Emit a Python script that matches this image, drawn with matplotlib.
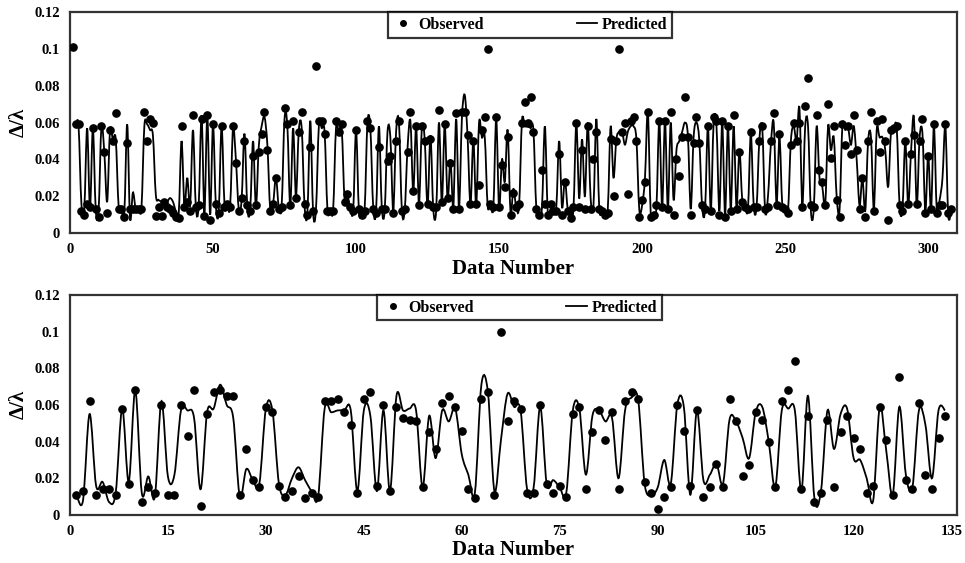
import numpy as np
import matplotlib
matplotlib.use("Agg")
import matplotlib.pyplot as plt
from matplotlib.path import Path
from matplotlib.patches import PathPatch
from matplotlib.lines import Line2D

plt.rcParams['font.family'] = ['Liberation Serif', 'DejaVu Serif']
plt.rcParams['font.weight'] = 'bold'

# top panel: observed / predicted (data numbers 1..308)
obs_top = [
    0.101, 0.059, 0.059, 0.012, 0.010, 0.016, 0.014, 0.057, 0.013, 0.009,
    0.058, 0.044, 0.011, 0.056, 0.050, 0.065, 0.013, 0.013, 0.009, 0.049,
    0.013, 0.013, 0.013, 0.013, 0.013, 0.066, 0.050, 0.062, 0.060, 0.0095,
    0.014, 0.0095, 0.017, 0.014, 0.013, 0.011, 0.009, 0.008, 0.058, 0.014,
    0.017, 0.012, 0.064, 0.014, 0.015, 0.062, 0.0095, 0.064, 0.007, 0.059,
    0.016, 0.011, 0.058, 0.014, 0.016, 0.014, 0.058, 0.038, 0.012, 0.019,
    0.050, 0.015, 0.012, 0.042, 0.015, 0.044, 0.054, 0.066, 0.045, 0.012,
    0.016, 0.030, 0.013, 0.014, 0.068, 0.059, 0.015, 0.061, 0.019, 0.055,
    0.066, 0.016, 0.010, 0.047, 0.012, 0.091, 0.061, 0.061, 0.054, 0.012,
    0.012, 0.012, 0.061, 0.055, 0.059, 0.017, 0.021, 0.014, 0.012, 0.056,
    0.013, 0.010, 0.012, 0.061, 0.057, 0.013, 0.011, 0.047, 0.013, 0.013,
    0.039, 0.042, 0.011, 0.050, 0.061, 0.012, 0.013, 0.044, 0.066, 0.023,
    0.058, 0.015, 0.058, 0.050, 0.016, 0.051, 0.014, 0.014, 0.067, 0.017,
    0.059, 0.019, 0.038, 0.013, 0.065, 0.013, 0.066, 0.066, 0.053, 0.016,
    0.050, 0.016, 0.026, 0.056, 0.063, 0.100, 0.016, 0.014, 0.063, 0.014,
    0.037, 0.025, 0.052, 0.010, 0.022, 0.014, 0.016, 0.060, 0.071, 0.060,
    0.074, 0.055, 0.013, 0.010, 0.034, 0.016, 0.010, 0.016, 0.012, 0.012,
    0.043, 0.010, 0.028, 0.012, 0.008, 0.014, 0.060, 0.014, 0.045, 0.013,
    0.058, 0.013, 0.040, 0.055, 0.013, 0.012, 0.010, 0.011, 0.051, 0.020,
    0.050, 0.100, 0.055, 0.060, 0.021, 0.061, 0.063, 0.050, 0.009, 0.018,
    0.028, 0.066, 0.009, 0.010, 0.015, 0.061, 0.014, 0.061, 0.013, 0.066,
    0.010, 0.040, 0.031, 0.052, 0.074, 0.052, 0.010, 0.049, 0.063, 0.049,
    0.015, 0.013, 0.058, 0.012, 0.063, 0.061, 0.010, 0.061, 0.009, 0.058,
    0.012, 0.064, 0.013, 0.044, 0.017, 0.014, 0.013, 0.055, 0.014, 0.014,
    0.050, 0.058, 0.013, 0.014, 0.050, 0.065, 0.015, 0.054, 0.014, 0.013,
    0.011, 0.048, 0.060, 0.050, 0.060, 0.014, 0.069, 0.084, 0.015, 0.014,
    0.064, 0.034, 0.028, 0.015, 0.070, 0.041, 0.058, 0.018, 0.009, 0.059,
    0.048, 0.058, 0.043, 0.064, 0.045, 0.013, 0.030, 0.009, 0.050, 0.066,
    0.012, 0.061, 0.044, 0.062, 0.050, 0.007, 0.056, 0.057, 0.058, 0.015,
    0.012, 0.050, 0.016, 0.043, 0.053, 0.016, 0.050, 0.062, 0.011, 0.042,
    0.013, 0.059, 0.011, 0.015, 0.015, 0.059, 0.011, 0.013,
]
pred_top = [
    0.059, 0.059, 0.058, 0.016, 0.013, 0.057, 0.013, 0.057, 0.013, 0.012,
    0.058, 0.044, 0.017, 0.056, 0.051, 0.051, 0.015, 0.013, 0.011, 0.059,
    0.008, 0.022, 0.013, 0.013, 0.014, 0.058, 0.059, 0.056, 0.053, 0.021,
    0.018, 0.017, 0.015, 0.017, 0.019, 0.017, 0.012, 0.010, 0.050, 0.015,
    0.030, 0.015, 0.056, 0.014, 0.015, 0.064, 0.011, 0.064, 0.010, 0.059,
    0.015, 0.012, 0.058, 0.016, 0.014, 0.015, 0.057, 0.040, 0.013, 0.018,
    0.054, 0.014, 0.013, 0.050, 0.014, 0.047, 0.058, 0.063, 0.048, 0.013,
    0.016, 0.030, 0.014, 0.015, 0.062, 0.058, 0.014, 0.057, 0.020, 0.056,
    0.057, 0.015, 0.011, 0.061, 0.011, 0.013, 0.058, 0.057, 0.055, 0.013,
    0.012, 0.013, 0.057, 0.055, 0.056, 0.018, 0.020, 0.014, 0.012, 0.056,
    0.012, 0.011, 0.013, 0.060, 0.057, 0.014, 0.012, 0.058, 0.014, 0.012,
    0.055, 0.052, 0.012, 0.055, 0.060, 0.013, 0.012, 0.046, 0.061, 0.022,
    0.058, 0.016, 0.057, 0.051, 0.014, 0.053, 0.013, 0.012, 0.060, 0.016,
    0.059, 0.018, 0.040, 0.014, 0.062, 0.014, 0.062, 0.075, 0.052, 0.015,
    0.051, 0.015, 0.060, 0.052, 0.052, 0.015, 0.016, 0.014, 0.062, 0.013,
    0.040, 0.028, 0.056, 0.011, 0.024, 0.014, 0.015, 0.061, 0.058, 0.058,
    0.057, 0.056, 0.014, 0.011, 0.014, 0.058, 0.012, 0.013, 0.013, 0.014,
    0.050, 0.014, 0.029, 0.013, 0.012, 0.013, 0.060, 0.019, 0.051, 0.020,
    0.060, 0.019, 0.015, 0.062, 0.014, 0.012, 0.012, 0.013, 0.058, 0.030,
    0.051, 0.055, 0.055, 0.048, 0.055, 0.058, 0.058, 0.051, 0.013, 0.015,
    0.030, 0.066, 0.011, 0.011, 0.014, 0.061, 0.014, 0.061, 0.013, 0.060,
    0.018, 0.045, 0.050, 0.055, 0.060, 0.053, 0.013, 0.052, 0.060, 0.050,
    0.014, 0.013, 0.058, 0.012, 0.060, 0.058, 0.012, 0.060, 0.010, 0.058,
    0.013, 0.058, 0.014, 0.045, 0.018, 0.015, 0.013, 0.054, 0.015, 0.014,
    0.051, 0.057, 0.012, 0.020, 0.048, 0.060, 0.016, 0.052, 0.015, 0.013,
    0.012, 0.050, 0.058, 0.050, 0.068, 0.015, 0.058, 0.058, 0.012, 0.013,
    0.058, 0.030, 0.025, 0.015, 0.058, 0.045, 0.052, 0.020, 0.012, 0.058,
    0.056, 0.057, 0.048, 0.058, 0.040, 0.015, 0.030, 0.012, 0.050, 0.052,
    0.013, 0.056, 0.052, 0.052, 0.045, 0.025, 0.055, 0.057, 0.057, 0.015,
    0.013, 0.050, 0.015, 0.044, 0.063, 0.015, 0.052, 0.054, 0.012, 0.043,
    0.012, 0.058, 0.012, 0.018, 0.030, 0.058, 0.010, 0.012,
]

# bottom panel: observed / predicted (data numbers 1..134)
obs_bot = [
    0.011, 0.013, 0.062, 0.011, 0.014, 0.014, 0.011, 0.058, 0.017, 0.068,
    0.007, 0.015, 0.012, 0.060, 0.011, 0.011, 0.060, 0.043, 0.068, 0.005,
    0.055, 0.067, 0.068, 0.065, 0.065, 0.011, 0.036, 0.019, 0.015, 0.059,
    0.056, 0.016, 0.010, 0.013, 0.021, 0.009, 0.012, 0.010, 0.062, 0.062,
    0.063, 0.056, 0.049, 0.012, 0.063, 0.067, 0.016, 0.060, 0.013, 0.059,
    0.053, 0.052, 0.051, 0.015, 0.045, 0.036, 0.061, 0.065, 0.059, 0.046,
    0.014, 0.009, 0.063, 0.067, 0.011, 0.100, 0.051, 0.062, 0.058, 0.012,
    0.012, 0.060, 0.017, 0.012, 0.016, 0.010, 0.055, 0.059, 0.014, 0.045,
    0.057, 0.041, 0.056, 0.014, 0.062, 0.067, 0.063, 0.018, 0.012, 0.003,
    0.010, 0.015, 0.060, 0.046, 0.016, 0.057, 0.010, 0.015, 0.028, 0.015,
    0.063, 0.051, 0.021, 0.027, 0.056, 0.052, 0.040, 0.015, 0.062, 0.068,
    0.084, 0.014, 0.054, 0.007, 0.012, 0.052, 0.015, 0.045, 0.054, 0.042,
    0.036, 0.012, 0.016, 0.059, 0.041, 0.011, 0.075, 0.019, 0.014, 0.061,
    0.022, 0.014, 0.042, 0.054,
]
pred_bot = [
    0.011, 0.008, 0.055, 0.016, 0.018, 0.007, 0.012, 0.058, 0.018, 0.068,
    0.012, 0.021, 0.010, 0.062, 0.021, 0.022, 0.057, 0.057, 0.053, 0.014,
    0.056, 0.058, 0.071, 0.060, 0.053, 0.010, 0.025, 0.019, 0.017, 0.058,
    0.057, 0.017, 0.011, 0.020, 0.026, 0.019, 0.013, 0.010, 0.058, 0.056,
    0.057, 0.057, 0.057, 0.013, 0.057, 0.054, 0.013, 0.057, 0.013, 0.065,
    0.057, 0.058, 0.057, 0.015, 0.054, 0.031, 0.057, 0.051, 0.058, 0.033,
    0.022, 0.012, 0.071, 0.067, 0.013, 0.041, 0.066, 0.059, 0.057, 0.014,
    0.015, 0.059, 0.017, 0.019, 0.015, 0.012, 0.057, 0.058, 0.022, 0.054,
    0.057, 0.051, 0.053, 0.020, 0.057, 0.064, 0.063, 0.017, 0.011, 0.015,
    0.030, 0.017, 0.060, 0.059, 0.011, 0.057, 0.019, 0.022, 0.028, 0.017,
    0.052, 0.051, 0.042, 0.031, 0.056, 0.059, 0.040, 0.015, 0.057, 0.058,
    0.057, 0.013, 0.065, 0.009, 0.013, 0.057, 0.036, 0.055, 0.058, 0.031,
    0.030, 0.020, 0.008, 0.059, 0.035, 0.011, 0.059, 0.022, 0.015, 0.057,
    0.049, 0.020, 0.057, 0.057,
]

top_xticks = [0, 50, 100, 150, 200, 250, 300]
bot_xticks = [0, 15, 30, 45, 60, 75, 90, 105, 120, 135]
yticks = [0, 0.02, 0.04, 0.06, 0.08, 0.1, 0.12]
ytick_labels = ['0', '0.02', '0.04', '0.06', '0.08', '0.1', '0.12']


def smooth_path(x, y):
    # excel-like smoothed line: bezier segments through every point
    x = np.asarray(x, float)
    y = np.asarray(y, float)
    n = len(x)
    verts = [(x[0], y[0])]
    codes = [Path.MOVETO]
    for i in range(n - 1):
        i0 = max(i - 1, 0)
        i3 = min(i + 2, n - 1)
        c1 = (x[i] + (x[i + 1] - x[i0]) / 6, y[i] + (y[i + 1] - y[i0]) / 6)
        c2 = (x[i + 1] - (x[i3] - x[i]) / 6, y[i + 1] - (y[i3] - y[i]) / 6)
        verts += [c1, c2, (x[i + 1], y[i + 1])]
        codes += [Path.CURVE4] * 3
    return Path(verts, codes)


def draw_panel(ax, obs, pred, xmax, xticks, leg_x):
    x = np.arange(1, len(obs) + 1)
    ax.add_patch(PathPatch(smooth_path(x, pred), fill=False, lw=1.3,
                           edgecolor='black', zorder=2))
    ax.plot(x, obs, 'o', color='black', markersize=5.2, zorder=3)
    ax.set_xlim(0, xmax)
    ax.set_ylim(0, 0.12)
    ax.set_xticks(xticks)
    ax.set_yticks(yticks)
    ax.set_yticklabels(ytick_labels)
    ax.tick_params(length=0, labelsize=10.5, pad=7)
    for lab in ax.get_xticklabels() + ax.get_yticklabels():
        lab.set_fontweight('bold')
    for s in ax.spines.values():
        s.set_linewidth(1.6)
        s.set_color('#333333')
    ax.set_xlabel('Data Number', fontsize=15, fontweight='bold', labelpad=2)
    ax.set_ylabel('Δ/λ', fontsize=15, fontweight='bold', labelpad=4)
    handles = [Line2D([], [], ls='none', marker='o', color='black', markersize=4),
               Line2D([], [], color='black', lw=1.3)]
    leg = ax.legend(handles, ['Observed', 'Predicted'], ncol=2,
                    loc='upper center', bbox_to_anchor=(leg_x, 1.0),
                    borderaxespad=0, frameon=True, fancybox=False,
                    edgecolor='black', columnspacing=5.8, handlelength=1.3,
                    handletextpad=0.3, borderpad=0.3,
                    prop={'weight': 'bold', 'size': 11.5})
    leg.get_frame().set_linewidth(1.6)


fig = plt.figure(figsize=(9.65, 5.63), dpi=100)
ax1 = fig.add_axes([0.0725, 0.586, 0.919, 0.3925])
ax2 = fig.add_axes([0.0725, 0.0853, 0.919, 0.391])

draw_panel(ax1, obs_top, pred_top, 310, top_xticks, 0.519)
draw_panel(ax2, obs_bot, pred_bot, 135.8, bot_xticks, 0.507)

fig.savefig('out.png', dpi=100, facecolor='white')
